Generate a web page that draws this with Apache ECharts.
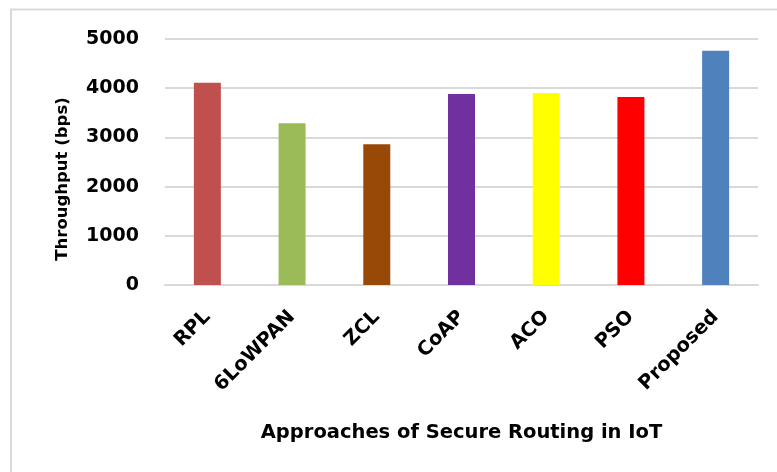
<!DOCTYPE html>
<html>
<head>
<meta charset="utf-8">
<script src="https://cdn.jsdelivr.net/npm/echarts@6/dist/echarts.min.js"></script>
<style>
  html, body { margin: 0; padding: 0; background: #fff; }
  #chart { width: 777px; height: 472px; }
</style>
</head>
<body>
<div id="chart"></div>
<script>
// Throughput of secure routing approaches
const categories = ['RPL', '6LoWPAN', 'ZCL', 'CoAP', 'ACO', 'PSO', 'Proposed'];
const throughput = [4110, 3290, 2860, 3880, 3900, 3820, 4760];
const barColors = ['#C0504D', '#9BBB59', '#984807', '#7030A0', '#FFFF00', '#FF0000', '#4F81BD'];
const yTicks = [0, 1000, 2000, 3000, 4000, 5000];

const FONT = 'DejaVu Sans';

const chart = echarts.init(document.getElementById('chart'), null, { renderer: 'canvas' });

chart.setOption({
  animation: false,
  backgroundColor: '#ffffff',
  graphic: [{
    type: 'rect',
    shape: { x: 11, y: 9.5, width: 820, height: 520 },
    style: { fill: 'none', stroke: '#d9d9d9', lineWidth: 2 },
    silent: true
  }],
  grid: { left: 165, right: 19, top: 39, bottom: 187, containLabel: false },
  xAxis: {
    type: 'category',
    data: categories,
    axisTick: { show: false },
    axisLine: { show: true, lineStyle: { color: '#d9d9d9', width: 2 } },
    axisLabel: {
      rotate: 45,
      interval: 0,
      margin: 29,
      color: '#000',
      fontFamily: FONT,
      fontWeight: 'bold',
      fontSize: 19.5
    },
    name: 'Approaches of Secure Routing in IoT',
    nameLocation: 'middle',
    nameGap: 138,
    nameTextStyle: { color: '#000', fontFamily: FONT, fontWeight: 'bold', fontSize: 19.5 }
  },
  yAxis: {
    type: 'value',
    min: yTicks[0],
    max: yTicks[yTicks.length - 1],
    interval: 1000,
    axisLine: { show: false },
    axisTick: { show: false },
    splitLine: { lineStyle: { color: '#d9d9d9', width: 2 } },
    axisLabel: {
      margin: 26,
      color: '#000',
      fontFamily: FONT,
      fontWeight: 'bold',
      fontSize: 19,
      formatter: v => String(v)
    },
    name: 'Throughput (bps)',
    nameLocation: 'middle',
    nameGap: 94,
    nameTextStyle: {
      color: '#000', fontFamily: FONT, fontWeight: 'bold', fontSize: 16.5,
      padding: [0, 34, 0, 0]
    }
  },
  series: [{
    type: 'bar',
    barWidth: 27,
    data: throughput.map((v, i) => ({ value: v, itemStyle: { color: barColors[i] } }))
  }]
});
</script>
</body>
</html>
